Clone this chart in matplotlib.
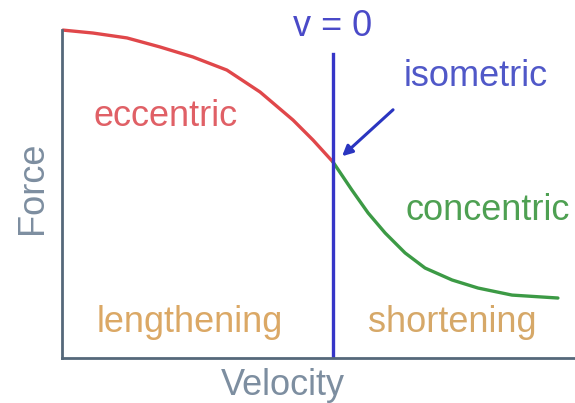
import matplotlib
matplotlib.use("Agg")
import matplotlib.pyplot as plt

plt.rcParams['font.family'] = ['Liberation Sans', 'DejaVu Sans']

# force-velocity relation, force normalised to isometric (v = 0) force
ecc_velocity = [-1.0, -0.889, -0.763, -0.641, -0.519, -0.393, -0.270, -0.148, -0.074, 0.0]
ecc_force = [1.673, 1.658, 1.633, 1.587, 1.536, 1.469, 1.357, 1.214, 1.112, 1.0]
con_velocity = [0.0, 0.070, 0.130, 0.193, 0.267, 0.341, 0.441, 0.537, 0.663, 0.833]
con_force = [1.0, 0.857, 0.740, 0.638, 0.536, 0.459, 0.398, 0.357, 0.321, 0.306]
zero_line_top = 1.551

W, H = 575, 403
fig = plt.figure(figsize=(W / 100, H / 100), dpi=100)
fig.patch.set_facecolor('white')

left, bottom = 62, 358
ax = fig.add_axes([left / W, (H - bottom) / H, (W - left) / W, bottom / H])
ax.set_xlim((left - 333) / 270, (W - 333) / 270)
ax.set_ylim(0, bottom / 196)

axis_col = '#55687a'
for s in ['top', 'right']:
    ax.spines[s].set_visible(False)
ax.spines['left'].set_color(axis_col)
ax.spines['bottom'].set_color(axis_col)
ax.spines['left'].set_linewidth(2)
ax.spines['bottom'].set_linewidth(2)
ax.spines['left'].set_bounds(0, ecc_force[0])
ax.set_xticks([])
ax.set_yticks([])

ax.plot(ecc_velocity, ecc_force, color='#e0474a', lw=2.4, solid_capstyle='round', solid_joinstyle='round')
ax.plot(con_velocity, con_force, color='#3c9a45', lw=2.4, solid_capstyle='round', solid_joinstyle='round')
ax.plot([0, 0], [0, zero_line_top], color='#3535c8', lw=2.4)

ax.annotate('', xy=(0.026, 1.020), xytext=(0.230, 1.276),
            arrowprops=dict(arrowstyle='-|>,head_length=0.6,head_width=0.3',
                            color='#2a35c0', lw=2.2))

fs = 26
ax.text(0, 1.643, 'v = 0', color='#4a4ac8', fontsize=fs, ha='center', va='baseline')
ax.text(0.530, 1.388, 'isometric', color='#5058c8', fontsize=fs, ha='center', va='baseline')
ax.text(-0.619, 1.184, 'eccentric', color='#e06066', fontsize=fs, ha='center', va='baseline')
ax.text(0.574, 0.704, 'concentric', color='#4ea052', fontsize=fs, ha='center', va='baseline')
ax.text(-0.530, 0.133, 'lengthening', color='#dba865', fontsize=fs, ha='center', va='baseline')
ax.text(0.441, 0.133, 'shortening', color='#d6a868', fontsize=fs, ha='center', va='baseline')

label_col = '#7d8ea0'
fig.text(283 / W, 8 / H, 'Velocity', color=label_col, fontsize=fs, ha='center', va='baseline')
fig.text(42 / W, (H - 188) / H, 'Force', color=label_col, fontsize=fs, rotation=90,
         rotation_mode='anchor', ha='center', va='baseline')

fig.savefig('out.png', dpi=100)
